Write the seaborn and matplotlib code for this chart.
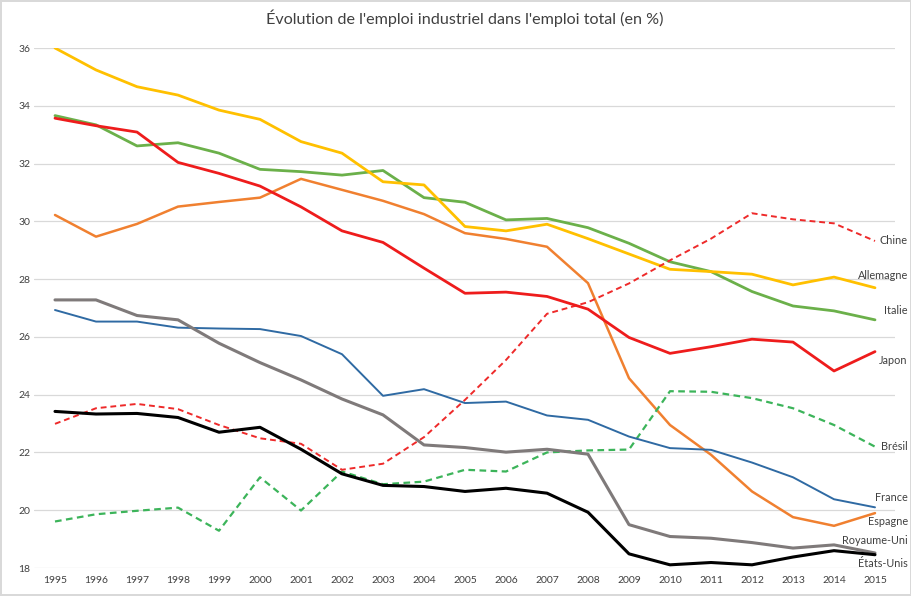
import numpy as np
import pandas as pd
import seaborn as sns
import matplotlib.pyplot as plt

# Industrial employment share of total employment (%)
years = list(range(1995, 2016))

allemagne = [36.0, 35.24, 34.66, 34.37, 33.85, 33.53, 32.76, 32.36, 31.37, 31.26, 29.82,
             29.67, 29.9, 29.4, 28.87, 28.34, 28.26, 28.17, 27.8, 28.07, 27.7]
italie = [33.66, 33.34, 32.61, 32.72, 32.36, 31.8, 31.72, 31.6, 31.76, 30.82, 30.66,
          30.05, 30.1, 29.78, 29.24, 28.6, 28.26, 27.57, 27.07, 26.9, 26.59]
japon = [33.57, 33.31, 33.09, 32.04, 31.66, 31.22, 30.5, 29.67, 29.27, 28.38, 27.51,
         27.55, 27.4, 26.96, 25.98, 25.43, 25.66, 25.92, 25.82, 24.82, 25.49]
espagne = [30.22, 29.47, 29.91, 30.51, 30.67, 30.82, 31.47, 31.09, 30.71, 30.25, 29.59,
           29.39, 29.12, 27.86, 24.57, 22.95, 21.92, 20.65, 19.76, 19.46, 19.9]
france = [26.93, 26.53, 26.53, 26.32, 26.29, 26.27, 26.03, 25.4, 23.96, 24.19, 23.71,
          23.76, 23.28, 23.13, 22.55, 22.15, 22.09, 21.65, 21.14, 20.38, 20.1]
royaume_uni = [27.28, 27.28, 26.74, 26.59, 25.78, 25.11, 24.51, 23.85, 23.3, 22.26, 22.17,
               22.01, 22.11, 21.94, 19.5, 19.09, 19.03, 18.88, 18.69, 18.8, 18.52]
etats_unis = [23.42, 23.33, 23.35, 23.21, 22.7, 22.87, 22.11, 21.26, 20.86, 20.82, 20.65,
              20.76, 20.59, 19.93, 18.49, 18.11, 18.19, 18.11, 18.38, 18.6, 18.46]
chine = [22.99, 23.53, 23.68, 23.5, 22.95, 22.49, 22.3, 21.4, 21.61, 22.53, 23.82,
         25.2, 26.8, 27.2, 27.85, 28.65, 29.4, 30.28, 30.07, 29.93, 29.32]
bresil = [19.61, 19.86, 19.98, 20.09, 19.29, 21.14, 19.99, 21.34, 20.9, 20.99, 21.4,
          21.34, 22.0, 22.07, 22.1, 24.12, 24.1, 23.88, 23.53, 22.95, 22.2]

series = {
    "Chine": chine,
    "Allemagne": allemagne,
    "Italie": italie,
    "Japon": japon,
    "Brésil": bresil,
    "France": france,
    "Espagne": espagne,
    "Royaume-Uni": royaume_uni,
    "États-Unis": etats_unis,
}

# style per country: colour, line width, dashed
styles = {
    "Chine": ("#ee2a2a", 1.4, True),
    "Allemagne": ("#ffc000", 2.0, False),
    "Italie": ("#6bb04a", 2.0, False),
    "Japon": ("#ee1c1c", 2.0, False),
    "Brésil": ("#3cb45a", 1.6, True),
    "France": ("#2f6aa3", 1.4, False),
    "Espagne": ("#f08030", 1.8, False),
    "Royaume-Uni": ("#7f7a7a", 2.2, False),
    "États-Unis": ("#000000", 2.2, False),
}

# y position of the end labels (data units)
label_y = {
    "Chine": 29.32, "Allemagne": 28.11, "Italie": 26.9, "Japon": 25.17,
    "Brésil": 22.19, "France": 20.43, "Espagne": 19.6, "Royaume-Uni": 18.94,
    "États-Unis": 18.14,
}

df = pd.DataFrame({"Année": years, **series})
long_df = df.melt(id_vars="Année", var_name="Pays", value_name="Part")

sns.set_style("white")
plt.rcParams["font.family"] = ["Lato", "DejaVu Sans"]

fig = plt.figure(figsize=(9.12, 5.96), dpi=100)
ax = fig.add_axes([34.5 / 912, 1 - 568 / 596, (895.5 - 34.5) / 912, (568 - 48) / 596])

order = ["Espagne", "Brésil", "France", "Royaume-Uni", "Italie", "Allemagne",
         "Chine", "États-Unis", "Japon"]
for name in order:
    color, lw, dashed = styles[name]
    sub = long_df[long_df["Pays"] == name]
    sns.lineplot(data=sub, x="Année", y="Part", ax=ax, color=color, linewidth=lw,
                 linestyle=(0, (3, 2)) if dashed else "-", legend=False)

for name, y in label_y.items():
    ax.text(2015.8, y, name, ha="right", va="center", fontsize=7.8,
            color="#404040", clip_on=False)

ax.set_xlim(1994.5, 2015.5)
ax.set_ylim(18, 36)
ax.set_xticks(years)
ax.set_xticklabels([str(y) for y in years])
ax.set_yticks(np.arange(18, 37, 2))
ax.tick_params(axis="both", labelsize=7.5, colors="#404040", length=0, pad=6)
ax.tick_params(axis="y", pad=3)
ax.set_xlabel("")
ax.set_ylabel("")
ax.yaxis.grid(True, color="#d9d9d9", linewidth=0.9)
ax.xaxis.grid(False)
for s in ax.spines.values():
    s.set_visible(False)

ax.set_title("Évolution de l'emploi industriel dans l'emploi total (en %)",
             fontsize=11.6, color="#404040", pad=17)

fig.patch.set_edgecolor("#d9d9d9")
fig.patch.set_linewidth(1.5)

fig.savefig("out.png", dpi=100, edgecolor=fig.get_edgecolor())
